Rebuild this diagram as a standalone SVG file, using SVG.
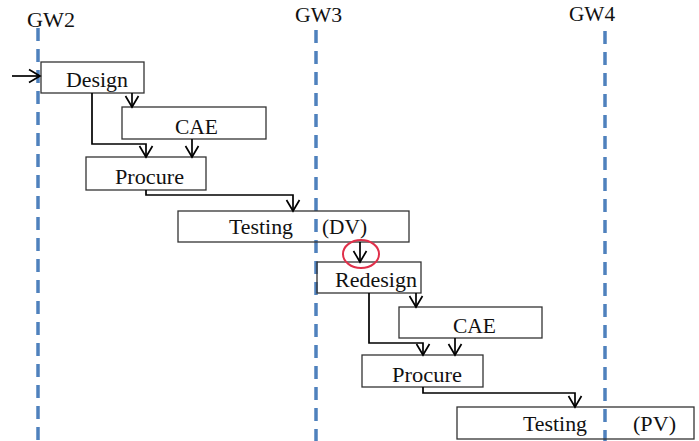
<svg xmlns="http://www.w3.org/2000/svg" width="699" height="441" viewBox="0 0 699 441">
<style>
.gw{stroke:#4f81bd;stroke-width:3.5;stroke-dasharray:13 8;fill:none}
.box{fill:none;stroke:#333;stroke-width:1.3}
.t{font-family:"Liberation Serif","Times New Roman",serif;font-size:22px;fill:#111}
.g{font-family:"Liberation Serif","Times New Roman",serif;font-size:20px;fill:#111}
.c{fill:none;stroke:#000;stroke-width:1.7;marker-end:url(#a)}
</style>
<defs>
<marker id="a" markerWidth="16" markerHeight="16" refX="12" refY="8" orient="auto" markerUnits="userSpaceOnUse">
<path d="M1,1.5 L12,8 L1,14.5" fill="none" stroke="#000" stroke-width="1.7"/>
</marker>
</defs>
<rect width="699" height="441" fill="#fff"/>
<g id="gates">
<line class="gw" x1="38" y1="28" x2="38" y2="441"/>
<line class="gw" x1="316" y1="30" x2="316" y2="441"/>
<line class="gw" x1="605" y1="31" x2="605" y2="441"/>
<text class="g" x="27" y="27" textLength="48" lengthAdjust="spacingAndGlyphs">GW2</text>
<text class="g" x="295" y="22" textLength="47" lengthAdjust="spacingAndGlyphs">GW3</text>
<text class="g" x="569" y="21" textLength="46" lengthAdjust="spacingAndGlyphs">GW4</text>
</g>
<g id="design"><rect class="box" x="41" y="62" width="103" height="31"/><text class="t" x="66" y="87" textLength="62" lengthAdjust="spacingAndGlyphs">Design</text></g>
<g id="cae1"><rect class="box" x="122" y="107" width="144" height="32"/><text class="t" x="175" y="134" textLength="43" lengthAdjust="spacingAndGlyphs">CAE</text></g>
<g id="procure1"><rect class="box" x="86" y="157" width="120" height="33"/><text class="t" x="115" y="184" textLength="69" lengthAdjust="spacingAndGlyphs">Procure</text></g>
<g id="testingDV"><rect class="box" x="178" y="211" width="231" height="31"/><text class="t" x="229" y="234" textLength="64" lengthAdjust="spacingAndGlyphs">Testing</text><text class="t" x="322" y="234" textLength="45" lengthAdjust="spacingAndGlyphs">(DV)</text></g>
<g id="redesign"><rect class="box" x="317" y="262" width="104" height="31"/><text class="t" x="335" y="287" textLength="82" lengthAdjust="spacingAndGlyphs">Redesign</text></g>
<g id="cae2"><rect class="box" x="399" y="307" width="143" height="31"/><text class="t" x="453" y="333" textLength="43" lengthAdjust="spacingAndGlyphs">CAE</text></g>
<g id="procure2"><rect class="box" x="362" y="355" width="121" height="32"/><text class="t" x="392" y="382" textLength="70" lengthAdjust="spacingAndGlyphs">Procure</text></g>
<g id="testingPV"><rect class="box" x="457" y="407" width="237" height="32"/><text class="t" x="523" y="431" textLength="64" lengthAdjust="spacingAndGlyphs">Testing</text><text class="t" x="633" y="431" textLength="43" lengthAdjust="spacingAndGlyphs">(PV)</text></g>
<g id="connectors">
<path class="c" d="M12,76 H40"/>
<path class="c" d="M132,93 V107"/>
<path class="c" d="M92,93 V144 H146 V157"/>
<path class="c" d="M192,139 V157"/>
<path class="c" d="M146,190 V195 H293 V211"/>
<path class="c" d="M360,242 V262"/>
<path class="c" d="M416,293 V307"/>
<path class="c" d="M369,293 V343 H423 V355"/>
<path class="c" d="M455,338 V355"/>
<path class="c" d="M423,387 V393 H575 V407"/>
</g>
<ellipse id="highlight" cx="361" cy="254" rx="18" ry="14" fill="none" stroke="#e0304a" stroke-width="2"/>
</svg>
